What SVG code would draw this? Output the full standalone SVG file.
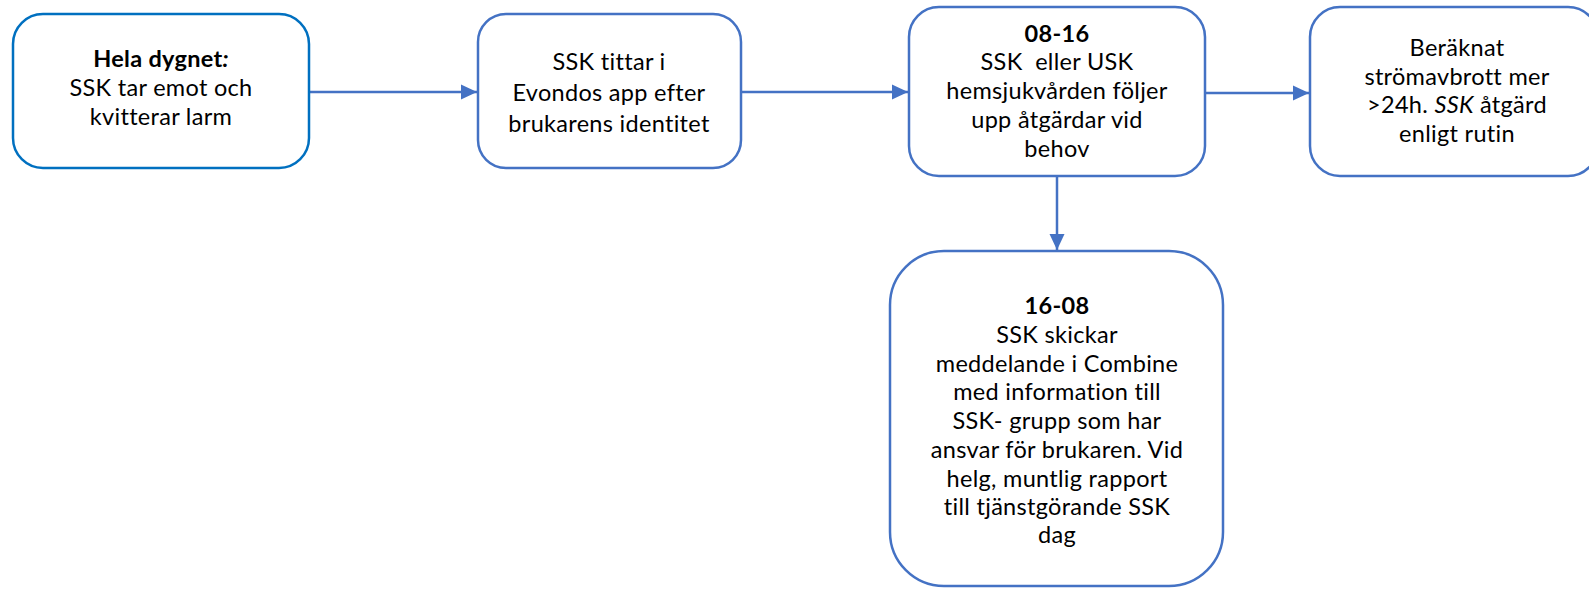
<svg xmlns="http://www.w3.org/2000/svg" width="1589" height="589" viewBox="0 0 1589 589">
<defs>
<style>
.box{fill:#fff;stroke:#4472C4;stroke-width:2.5}
.box1{fill:#fff;stroke:#0070C0;stroke-width:2.5}
.t{font-family:Lato,"Open Sans","Liberation Sans",sans-serif;font-size:23.5px;letter-spacing:0.3px;fill:#000;text-anchor:middle}
.b{font-weight:bold}
.i{font-style:italic}
.c{stroke:#4472C4;stroke-width:2.5;fill:none}
</style>
<marker id="ah" markerUnits="userSpaceOnUse" markerWidth="16" markerHeight="16" viewBox="0 0 16 16" refX="16" refY="8" orient="auto">
<path d="M0,0.5 L16,8 L0,15.5 Z" fill="#4472C4"/>
</marker>
</defs>
<g id="connectors">
<line class="c" x1="310" y1="92" x2="477" y2="92" marker-end="url(#ah)"/>
<line class="c" x1="742" y1="92" x2="908" y2="92" marker-end="url(#ah)"/>
<line class="c" x1="1206" y1="93" x2="1309" y2="93" marker-end="url(#ah)"/>
<line class="c" x1="1057" y1="177" x2="1057" y2="250" marker-end="url(#ah)"/>
</g>
<g id="node1">
<rect class="box1" x="13" y="14" width="296" height="154" rx="30"/>
<text class="t" x="161" y="67"><tspan class="b">Hela dygnet</tspan><tspan class="b i">:</tspan></text>
<text class="t" x="161" y="96">SSK tar emot och</text>
<text class="t" x="161" y="125">kvitterar larm</text>
</g>
<g id="node2">
<rect class="box" x="478" y="14" width="263" height="154" rx="28"/>
<text class="t" x="609" y="70">SSK tittar i</text>
<text class="t" x="609" y="101">Evondos app efter</text>
<text class="t" x="609" y="132">brukarens identitet</text>
</g>
<g id="node3">
<rect class="box" x="909" y="7" width="296" height="169" rx="30"/>
<text class="t b" x="1057" y="42">08-16</text>
<text class="t" x="1057" y="70" xml:space="preserve">SSK  eller USK</text>
<text class="t" x="1057" y="99">hemsjukvården följer</text>
<text class="t" x="1057" y="128">upp åtgärdar vid</text>
<text class="t" x="1057" y="157">behov</text>
</g>
<g id="node4">
<rect class="box" x="1310" y="7" width="288" height="169" rx="30"/>
<text class="t" x="1457" y="56">Beräknat</text>
<text class="t" x="1457" y="85">strömavbrott mer</text>
<text class="t" x="1457" y="113">&gt;24h. <tspan class="i">SSK</tspan> åtgärd</text>
<text class="t" x="1457" y="142">enligt rutin</text>
</g>
<g id="node5">
<rect class="box" x="890" y="251" width="333" height="335" rx="54"/>
<text class="t b" x="1057" y="314">16-08</text>
<text class="t" x="1057" y="343">SSK skickar</text>
<text class="t" x="1057" y="372">meddelande i Combine</text>
<text class="t" x="1057" y="400">med information till</text>
<text class="t" x="1057" y="429">SSK- grupp som har</text>
<text class="t" x="1057" y="458">ansvar för brukaren. Vid</text>
<text class="t" x="1057" y="487">helg, muntlig rapport</text>
<text class="t" x="1057" y="515">till tjänstgörande SSK</text>
<text class="t" x="1057" y="543">dag</text>
</g>
</svg>
